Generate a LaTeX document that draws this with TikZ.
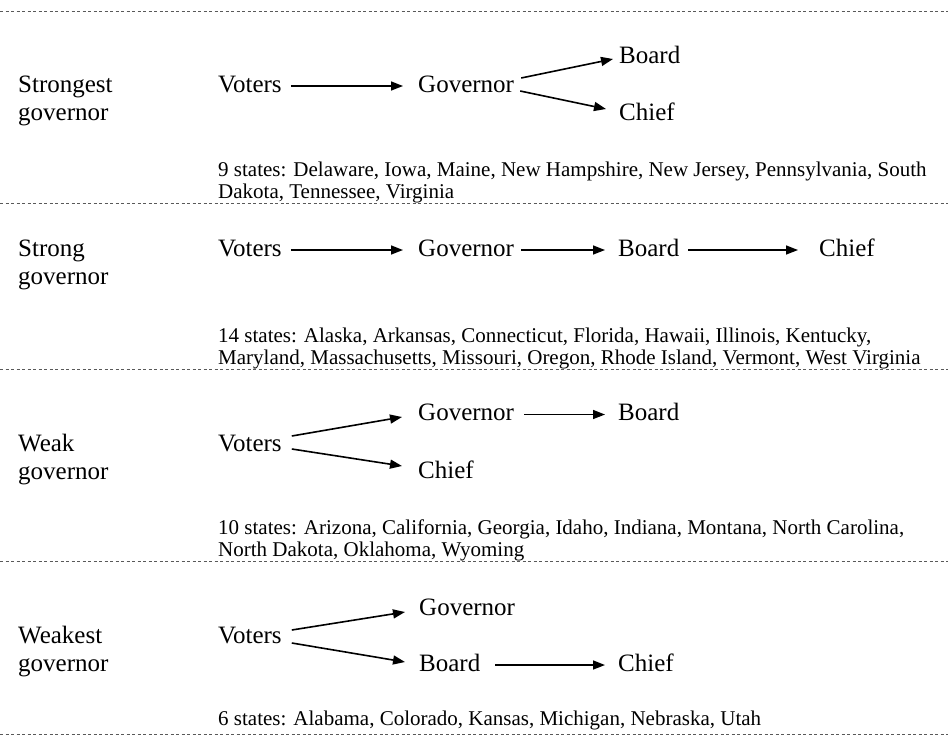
\documentclass[tikz,border=0pt]{standalone}
\usepackage{fontspec}
\setmainfont{Liberation Serif}
\usetikzlibrary{arrows.meta,calc}
\begin{document}
\begin{tikzpicture}[x=1pt,y=-1pt,
  lbl/.style={anchor=base west, inner sep=0pt, align=left, font=\fontsize{25}{28.3}\selectfont},
  box/.style={anchor=base west, inner sep=0pt, text height=12pt, text depth=0pt, font=\fontsize{25}{28}\selectfont},
  states/.style={anchor=base west, inner sep=0pt, font=\fontsize{21}{22.3}\selectfont},
  arr/.style={-{Triangle[length=12pt,width=9pt]}, line width=1.6pt},
  sep/.style={draw=black!65, line width=0.9pt, dash pattern=on 3pt off 2.5pt}]
\useasboundingbox (0,0) rectangle (948,736);

% separators
\foreach \yy in {11,203,369,561,734} \draw[sep] (0,\yy) -- (948,\yy);

% ---- Section 1: Strongest governor
\node[lbl] (l1) at (18,120.3) {Strongest\\governor};
\node[box] (v1) at (218,92) {Voters};
\node[box] (g1) at (418,92) {Governor};
\node[box] (b1) at (619,63) {Board};
\node[box] (c1) at (619,120) {Chief};
\draw[arr, shorten <=9pt, shorten >=15pt] (v1) -- (g1);
\draw[arr] ([shift={(7pt,8pt)}]g1.east) -- ([shift={(-6pt,-2pt)}]b1.west);
\draw[arr] ([shift={(6pt,-5pt)}]g1.east) -- ([shift={(-13pt,5pt)}]c1.west);
\node[states] (s1a) at (218,176) {9 states: Delaware, Iowa, Maine, New Hampshire, New Jersey, Pennsylvania, South};
\node[states] (s1b) at (218,198.3) {Dakota, Tennessee, Virginia};

% ---- Section 2: Strong governor
\node[lbl] (l2) at (18,284.3) {Strong\\governor};
\node[box] (v2) at (218,256) {Voters};
\node[box] (g2) at (418,256) {Governor};
\node[box] (b2) at (618,256) {Board};
\node[box] (c2) at (819,256) {Chief};
\draw[arr, shorten <=9pt, shorten >=15pt] (v2) -- (g2);
\draw[arr, shorten <=7pt, shorten >=13pt] (g2) -- (b2);
\draw[arr, shorten <=8.5pt, shorten >=21pt] (b2) -- (c2);
\node[states] (s2a) at (218,342) {14 states: Alaska, Arkansas, Connecticut, Florida, Hawaii, Illinois, Kentucky,};
\node[states] (s2b) at (218,364) {Maryland, Massachusetts, Missouri, Oregon, Rhode Island, Vermont, West Virginia};

% ---- Section 3: Weak governor
\node[lbl] (l3) at (18,479.3) {Weak\\governor};
\node[box] (v3) at (218,451) {Voters};
\node[box] (g3) at (418,420.5) {Governor};
\node[box] (b3) at (618,420.5) {Board};
\node[box] (c3) at (418,478) {Chief};
\draw[arr] ([shift={(10pt,9pt)}]v3.east) -- ([shift={(-16pt,-2.5pt)}]g3.west);
\draw[arr] ([shift={(10pt,-4pt)}]v3.east) -- ([shift={(-16pt,6pt)}]c3.west);
\draw[arr, shorten <=10pt, shorten >=13pt] (g3) -- (b3);
\node[states] (s3a) at (218,534) {10 states: Arizona, California, Georgia, Idaho, Indiana, Montana, North Carolina,};
\node[states] (s3b) at (218,556) {North Dakota, Oklahoma, Wyoming};

% ---- Section 4: Weakest governor
\node[lbl] (l4) at (18,671.3) {Weakest\\governor};
\node[box] (v4) at (218,643) {Voters};
\node[box] (g4) at (419,615) {Governor};
\node[box] (b4) at (419,671) {Board};
\node[box] (c4) at (618,671) {Chief};
\draw[arr] ([shift={(10pt,7pt)}]v4.east) -- ([shift={(-14pt,-3pt)}]g4.west);
\draw[arr] ([shift={(10pt,-6pt)}]v4.east) -- ([shift={(-14pt,3pt)}]b4.west);
\draw[arr, shorten <=14.5pt, shorten >=13pt] (b4) -- (c4);
\node[states] (s4a) at (218,725) {6 states: Alabama, Colorado, Kansas, Michigan, Nebraska, Utah};
\end{tikzpicture}
\end{document}
